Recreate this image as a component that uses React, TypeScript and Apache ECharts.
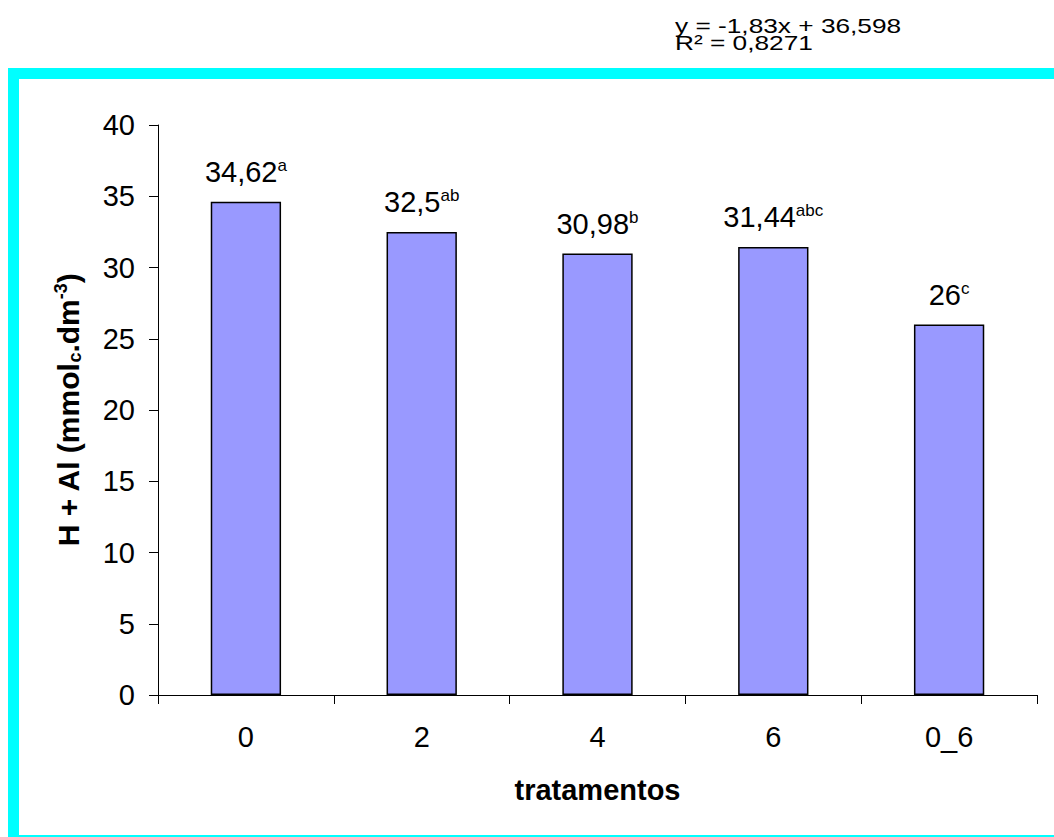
import React, { useEffect, useRef } from "react";
import * as echarts from "echarts";

const categories = ["0", "2", "4", "6", "0_6"];
const values = [34.62, 32.5, 30.98, 31.44, 26];
const valueTexts = ["34,62", "32,5", "30,98", "31,44", "26"];
const letters = ["a", "ab", "b", "abc", "c"];
const equationLine1 = "y = -1,83x + 36,598";
const equationLine2 = "R² = 0,8271";

const FONT = "Liberation Sans, Arial, sans-serif";

export default function App() {
  const ref = useRef<HTMLDivElement>(null);
  useEffect(() => {
    document.body.style.margin = "0";
    const chart = echarts.init(ref.current!, null, { renderer: "svg" });
    chart.setOption({
      animation: false,
      backgroundColor: "#ffffff",
      textStyle: { fontFamily: FONT },
      grid: { left: 158, right: 17, top: 125, bottom: 142, containLabel: false },
      xAxis: {
        type: "category",
        data: categories,
        boundaryGap: true,
        axisLine: { lineStyle: { color: "#000", width: 1 } },
        axisTick: { show: true, length: 9, lineStyle: { color: "#000" } },
        axisLabel: { color: "#000", fontSize: 29, fontFamily: FONT, margin: 27 },
        name: "tratamentos",
        nameLocation: "middle",
        nameGap: 80,
        nameTextStyle: { color: "#000", fontSize: 29, fontWeight: "bold", fontFamily: FONT },
      },
      yAxis: {
        type: "value",
        min: 0,
        max: 40,
        interval: 5,
        splitLine: { show: false },
        axisLine: { show: true, lineStyle: { color: "#000", width: 1 } },
        axisTick: { show: true, length: 9, lineStyle: { color: "#000" } },
        axisLabel: { color: "#000", fontSize: 29, fontFamily: FONT, margin: 23 },
        name: "{m|H + Al (mmol}{sub|c}{m|.dm}{sup|-3}{m|)}",
        nameLocation: "middle",
        nameRotate: 90,
        nameGap: 74,
        nameTextStyle: {
          color: "#000",
          fontWeight: "bold",
          fontFamily: FONT,
          rich: {
            m: { fontSize: 30, fontWeight: "bold", fontFamily: FONT, lineHeight: 32, color: "#000" },
            sub: { fontSize: 18, fontWeight: "bold", fontFamily: FONT, lineHeight: 20, verticalAlign: "bottom", color: "#000" },
            sup: { fontSize: 18, fontWeight: "bold", fontFamily: FONT, lineHeight: 16, verticalAlign: "top", color: "#000" },
          },
        },
      },
      series: [
        {
          type: "bar",
          data: values,
          barWidth: "40%",
          itemStyle: { color: "#9999FF", borderColor: "#000", borderWidth: 1.5 },
          label: {
            show: true,
            position: "top",
            distance: 15,
            formatter: (p: any) => `{v|${valueTexts[p.dataIndex]}}{s|${letters[p.dataIndex]}}`,
            rich: {
              v: { fontSize: 29, fontFamily: FONT, color: "#000", lineHeight: 30 },
              s: { fontSize: 17, fontFamily: FONT, color: "#000", lineHeight: 10, verticalAlign: "top" },
            },
          },
        },
      ],
      graphic: [
        { type: "rect", left: 8, top: 68, shape: { width: 1046, height: 11 }, style: { fill: "#00FFFF" }, z: 100 },
        { type: "rect", left: 8, top: 68, shape: { width: 11, height: 768 }, style: { fill: "#00FFFF" }, z: 100 },
        { type: "rect", left: 8, top: 835, shape: { width: 1046, height: 2 }, style: { fill: "#00FFFF" }, z: 100 },
        {
          type: "text",
          x: 675,
          y: 17,
          scaleX: 1.25,
          style: {
            text: equationLine1 + "\n" + equationLine2,
            fontSize: 21,
            lineHeight: 17,
            fontFamily: FONT,
            fill: "#000",
            x: 0,
            y: 0,
            verticalAlign: "top",
          },
        },
      ],
    });
    return () => chart.dispose();
  }, []);
  return <div ref={ref} style={{ position: "absolute", left: 0, top: 0, width: 1054, height: 837 }} />;
}
